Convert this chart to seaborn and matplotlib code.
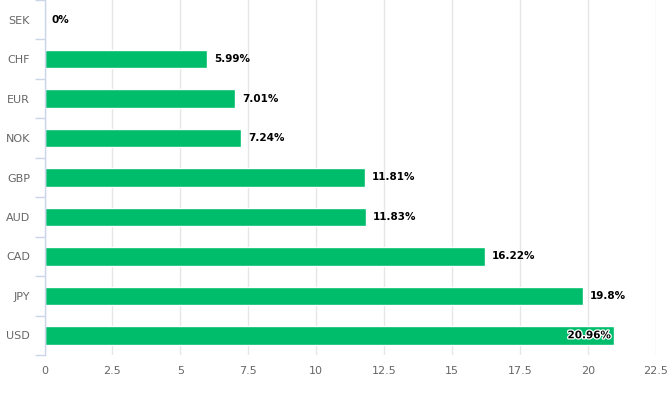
import matplotlib
matplotlib.use("Agg")
import matplotlib.pyplot as plt
import matplotlib.patheffects as pe
import seaborn as sns
import pandas as pd
import numpy as np

currencies = ["SEK", "CHF", "EUR", "NOK", "GBP", "AUD", "CAD", "JPY", "USD"]
values = [0, 5.99, 7.01, 7.24, 11.81, 11.83, 16.22, 19.8, 20.96]
labels = ["0%", "5.99%", "7.01%", "7.24%", "11.81%", "11.83%", "16.22%", "19.8%", "20.96%"]
xticks = [0, 2.5, 5, 7.5, 10, 12.5, 15, 17.5, 20, 22.5]
xticklabels = ["0", "2.5", "5", "7.5", "10", "12.5", "15", "17.5", "20", "22.5"]

sns.set_style("white")
plt.rcParams["font.family"] = ["DejaVu Sans"]

df = pd.DataFrame({"currency": currencies, "value": values})

fig = plt.figure(figsize=(6.67, 3.93), dpi=100)
ax = fig.add_axes([44.5 / 667, 1 - 355 / 393, (656 - 44.5) / 667, 355 / 393])

sns.barplot(data=df, x="value", y="currency", orient="h", color="#00bd6c",
            saturation=1, width=0.47, ax=ax, zorder=3)

ax.set_xlim(0, 22.5)
ax.set_ylim(8.5, -0.5)
ax.set_xticks(xticks)
ax.set_xticklabels(xticklabels)
ax.set_xlabel("")
ax.set_ylabel("")
ax.grid(axis="x", color="#e6e6e6", linewidth=1, zorder=0)
ax.grid(axis="y", visible=False)

for s in ["top", "right", "bottom"]:
    ax.spines[s].set_visible(False)
ax.spines["left"].set_color("#ccd6eb")
ax.spines["left"].set_linewidth(1)
ax.spines["left"].set_zorder(4)

ax.tick_params(axis="x", length=0, labelsize=8, labelcolor="#666666", pad=8)
ax.tick_params(axis="y", which="major", left=False, length=0, labelsize=8,
               labelcolor="#666666", pad=10.5)
ax.set_yticks(np.arange(-0.5, 9, 1), minor=True)
ax.tick_params(axis="y", which="minor", left=True, length=7.5, color="#ccd6eb",
               width=1, direction="out")

for i, (v, lab) in enumerate(zip(values, labels)):
    if i == len(values) - 1:
        t = ax.text(v - 0.12, i, lab, ha="right", va="center", fontsize=7.5,
                    fontweight="bold", color="black", zorder=5)
        t.set_path_effects([pe.withStroke(linewidth=1.8, foreground="white")])
    else:
        ax.text(v + 0.25, i, lab, ha="left", va="center", fontsize=7.5,
                fontweight="bold", color="black", zorder=5)

fig.savefig("out.png", dpi=100)
